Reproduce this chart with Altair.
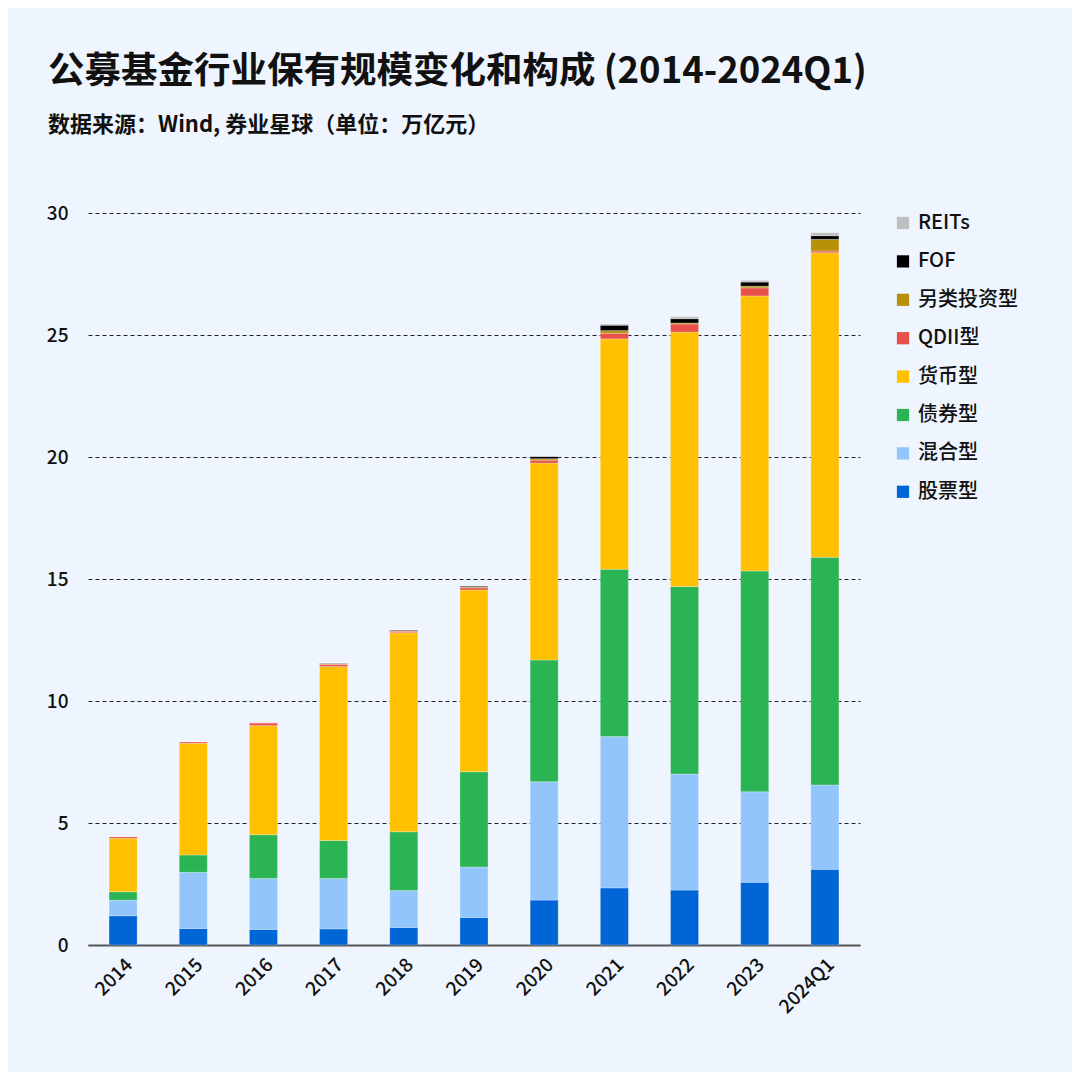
import altair as alt
import pandas as pd

years = ["2014", "2015", "2016", "2017", "2018", "2019", "2020", "2021", "2022", "2023", "2024Q1"]
series = ["股票型", "混合型", "债券型", "货币型", "QDII型", "另类投资型", "FOF", "REITs"]
colors = ["#0066d6", "#93c5fd", "#2ab453", "#ffc000", "#e8504a", "#b8900a", "#000000", "#bfbfbf"]

stock = [1.20, 0.68, 0.64, 0.66, 0.72, 1.13, 1.84, 2.34, 2.25, 2.57, 3.10]
mixed = [0.64, 2.30, 2.09, 2.07, 1.51, 2.07, 4.85, 6.20, 4.76, 3.71, 3.46]
bond = [0.34, 0.71, 1.79, 1.55, 2.41, 3.90, 4.99, 6.86, 7.68, 9.05, 9.33]
money = [2.19, 4.58, 4.47, 7.13, 8.16, 7.45, 8.07, 9.44, 10.43, 11.27, 12.48]
qdii = [0.07, 0.06, 0.11, 0.09, 0.06, 0.09, 0.12, 0.23, 0.33, 0.33, 0.07]
other = [0.01, 0.01, 0.01, 0.03, 0.02, 0.03, 0.06, 0.11, 0.04, 0.07, 0.48]
fof = [0.00, 0.00, 0.01, 0.02, 0.03, 0.04, 0.09, 0.22, 0.18, 0.17, 0.15]
reits = [0.00, 0.00, 0.00, 0.00, 0.00, 0.00, 0.00, 0.05, 0.08, 0.07, 0.12]

values = [stock, mixed, bond, money, qdii, other, fof, reits]
rows = []
for si, (name, vals) in enumerate(zip(series, values)):
    for y, v in zip(years, vals):
        rows.append({"year": y, "type": name, "value": v, "idx": si})
df = pd.DataFrame(rows)

FONT = "Noto Sans CJK SC"
BG = "#eef5fe"

chart = alt.Chart(df).mark_bar(
    stroke="#ffffff", strokeWidth=0.6, strokeOpacity=0.45
).encode(
    x=alt.X("year:N", sort=years, title=None,
            scale=alt.Scale(paddingInner=0.6, paddingOuter=0.3),
            axis=alt.Axis(labelAngle=-45, labelFontSize=19, labelColor="#111",
                          labelFont=FONT, labelFontWeight=500, ticks=False,
                          domainColor="#555", domainWidth=2, labelPadding=10,
                          grid=False)),
    y=alt.Y("value:Q", stack="zero", title=None,
            scale=alt.Scale(domain=[0, 30], nice=False),
            axis=alt.Axis(values=[0, 5, 10, 15, 20, 25, 30], labelFontSize=19,
                          labelColor="#111", labelFont=FONT, labelFontWeight=500,
                          ticks=False, domain=False, labelPadding=20,
                          gridColor="#222", gridDash=[4, 3], gridWidth=1)),
    color=alt.Color("type:N",
                    scale=alt.Scale(domain=series[::-1], range=colors[::-1]),
                    legend=alt.Legend(title=None, orient="none", legendX=805,
                                      legendY=0, symbolType="square",
                                      symbolSize=150, symbolStrokeWidth=0,
                                      labelFontSize=20, labelFont=FONT,
                                      labelFontWeight=500,
                                      labelColor="#111", rowPadding=18.4,
                                      labelOffset=5)),
    order=alt.Order("idx:Q", sort="ascending"),
).properties(
    width=772,
    height=732,
    title=alt.TitleParams(
        text="公募基金行业保有规模变化和构成 (2014-2024Q1)",
        subtitle="数据来源：Wind, 券业星球（单位：万亿元）",
        anchor="start", frame="group", dx=-40, offset=68,
        font=FONT, fontSize=36.5, fontWeight="bold", color="#111",
        subtitleFont=FONT, subtitleFontSize=22, subtitleFontWeight="bold",
        subtitleColor="#111", subtitlePadding=25,
    ),
    autosize=alt.AutoSizeParams(type="none"),
    padding={"left": 80, "top": 205, "right": 212, "bottom": 127},
).configure(
    background=BG,
).configure_view(
    stroke=None,
)

chart.save("out.html", embed_options={"renderer": "svg", "actions": False})
